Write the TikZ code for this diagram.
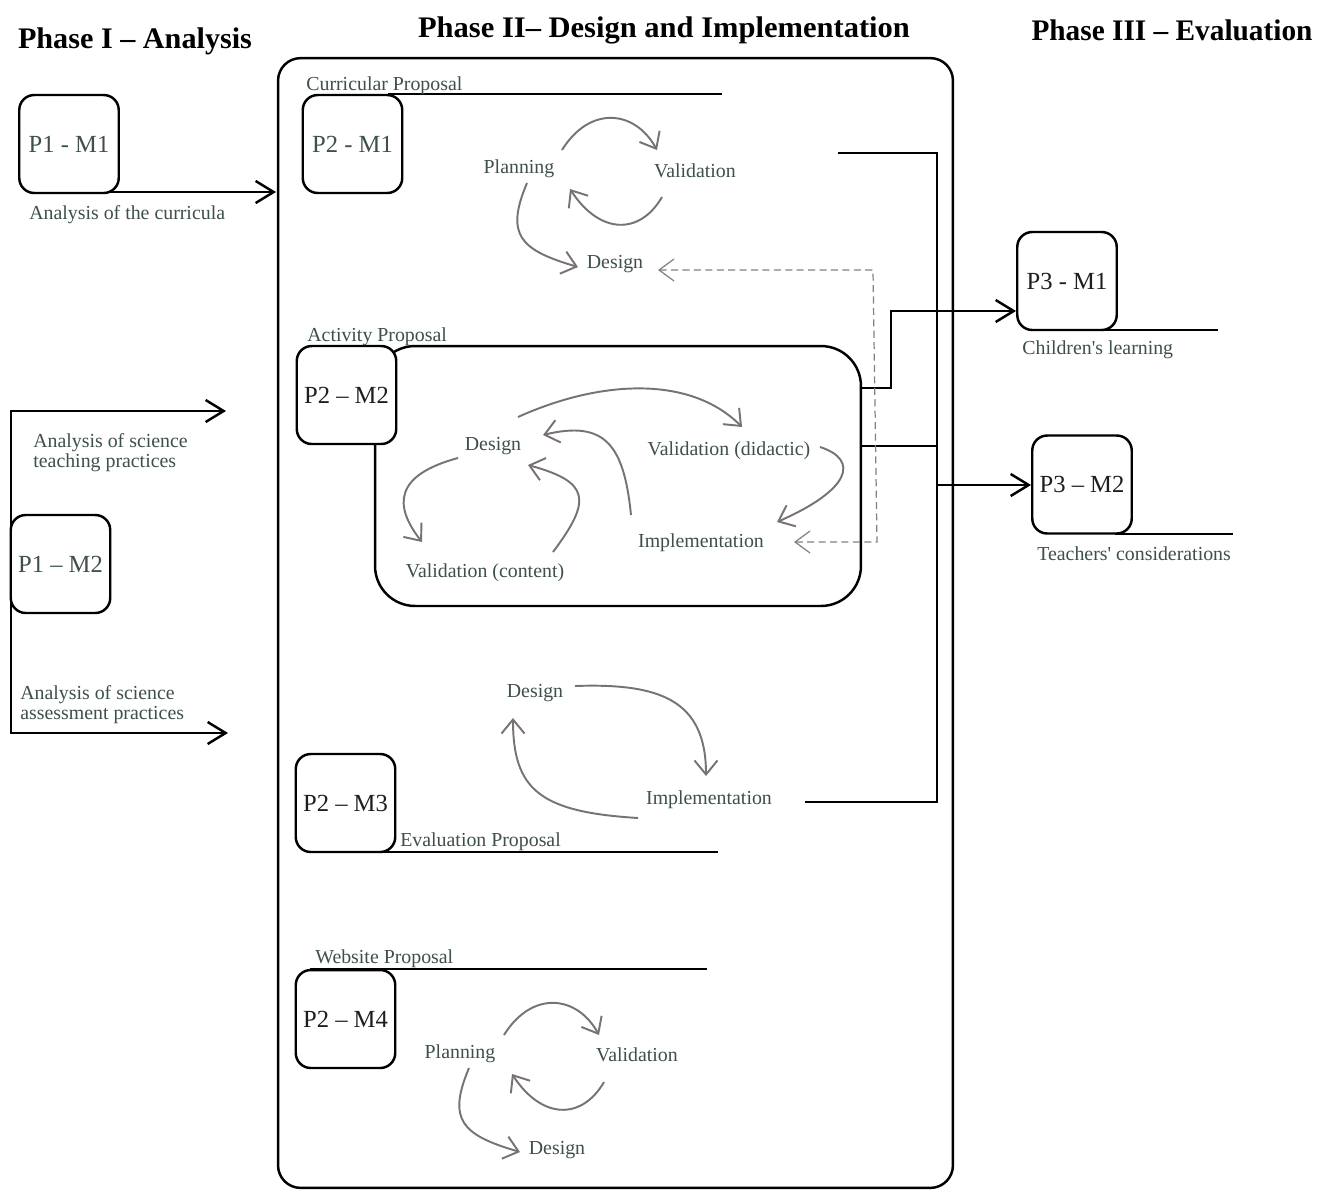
\documentclass[tikz,border=0pt]{standalone}
\usepackage{fontspec}
\setmainfont{Liberation Serif}
\newfontfamily\nolig{Liberation Serif}[Ligatures=ResetAll]
\usepackage{graphicx}
\usetikzlibrary{arrows.meta}
\definecolor{txtc}{RGB}{62,80,72}
\definecolor{boxtxt}{RGB}{30,30,30}
\definecolor{curvc}{RGB}{120,114,114}
\definecolor{dashc}{RGB}{130,130,130}
\tikzset{
 mbox/.style={draw=black, line width=1.4pt, rounded corners=0.3cm, minimum width=1.99cm, minimum height=1.96cm, fill=white, inner sep=0pt, text=boxtxt, font=\fontsize{14}{16}\selectfont},
 gbox/.style={mbox, text=txtc},
 lbl/.style={inner sep=0pt, text=txtc, yshift=-1.7pt, font=\fontsize{11.3}{11.5}\selectfont},
 garrow/.style={draw=curvc, line width=1.1pt, -{Straight Barb[length=2.8mm,width=4.6mm]}},
 blk/.style={draw=black, line width=1.4pt},
 barrow/.style={blk, -{Straight Barb[length=3.6mm,width=4.4mm]}},
 dline/.style={draw=dashc, line width=0.7pt, dash pattern=on 4pt off 2.5pt, {Straight Barb[length=3mm,width=4.4mm]}-{Straight Barb[length=3mm,width=4.4mm]}},
 headc/.style={inner sep=0pt, font=\fontsize{17}{19}\selectfont\bfseries}
}
\begin{document}
\begin{tikzpicture}[x=0.02cm, y=-0.02cm]
\useasboundingbox (0,0) rectangle (1330,1191);
\fill[white] (0,0) rectangle (1330,1191);

% headings
\node[headc] (h1) at (135,41) {\resizebox{4.68cm}{\height}{Phase I -- Analysis}};
\node[headc] (h2) at (664,30) {\resizebox{9.84cm}{\height}{Phase II-- Design and Implementation}};
\node[headc] (h3) at (1172,30) {\resizebox{5.62cm}{\height}{Phase III -- Evaluation}};

% outer frame
\node[draw=black, line width=1.4pt, rounded corners=0.45cm, minimum width=13.5cm, minimum height=22.6cm, inner sep=0pt] (frame) at (615.5,623) {};

% activity box
\node[draw=black, line width=1.4pt, rounded corners=0.8cm, minimum width=9.72cm, minimum height=5.2cm, inner sep=0pt] (actbox) at (618,476) {};

% black connector lines
\coordinate (c1) at (838,153);
\coordinate (c2) at (937,153);
\coordinate (c3) at (937,802);
\coordinate (c4) at (805,802);
\draw[blk] (c1) -- (c2) -- (c3) -- (c4);
\coordinate (c5) at (861,446);
\draw[blk] (c5) -- (937,446);
\coordinate (c6) at (861,388);
\coordinate (c7) at (891,388);
\coordinate (c8) at (891,311);
\coordinate (c9) at (937,485);

% underlines
\draw[blk] (388,94) -- (722,94);
\draw[blk] (380,852) -- (718,852);
\draw[blk] (310,969) -- (707,969);
\draw[blk] (1100,330) -- (1218,330);
\draw[blk] (1115,534) -- (1233,534);

% left connector
\coordinate (l1) at (226,411);
\coordinate (l2) at (11,411);
\coordinate (l3) at (11,733);
\coordinate (l4) at (228,733);
\draw[blk, {Straight Barb[length=3.6mm,width=4.4mm]}-{Straight Barb[length=3.6mm,width=4.4mm]}] (l1) -- (l2) -- (l3) -- (l4);

% P1-M1 arrow
\coordinate (a1) at (104,192);
\coordinate (a2) at (276,192);
\draw[barrow] (a1) -- (a2);

% boxes
\node[gbox] (p1m1) at (69,144) {P1 - M1};
\node[gbox] (p2m1) at (352.5,144) {P2 - M1};
\node[gbox] (p1m2) at (60.5,564) {P1 -- M2};
\node[mbox] (p2m2) at (346.5,395) {P2 -- M2};
\node[mbox] (p2m3) at (345.5,803) {P2 -- M3};
\node[mbox] (p2m4) at (345.5,1019) {P2 -- M4};
\node[mbox] (p3m1) at (1067,281) {P3 - M1};
\node[mbox] (p3m2) at (1082,484.5) {P3 -- M2};

\draw[barrow] (c6) -- (c7) -- (c8) -- (p3m1.west |- c8);
\draw[barrow] (c9) -- (p3m2.west |- c9);

% labels
\node[lbl, anchor=west] (lcur) at (306,83) {Curricular Proposal};
\node[lbl, anchor=west] (lact) at (307,334) {Activity Proposal};
\node[lbl, anchor=west] (leva) at (400,839) {Evaluation Proposal};
\node[lbl, anchor=west] (lweb) at (315,956) {Website Proposal};
\node[lbl, anchor=west] (lcurr) at (29,212) {Analysis of the curricula};
\node[lbl, anchor=west] (lchild) at (1022,347) {Children{\nolig '}s learning};
\node[lbl, anchor=west] (lteach) at (1037,551) {Teachers{\nolig '} considerations};
\node[lbl, anchor=west, align=left] (lteachp) at (33,450) {Analysis of science\\teaching practices};
\node[lbl, anchor=west, align=left] (lassp) at (20,702) {Analysis of science\\assessment practices};

% M1 cycle
\node[lbl] (plan1) at (519,166) {Planning};
\node[lbl] (val1) at (695,168) {Validation};
\node[lbl] (des1) at (615,261) {Design};
\draw[garrow] (562,150) .. controls (590,105) and (635,110) .. (657,150);
\draw[garrow] (662,197) .. controls (640,235) and (600,235) .. (570,189);
\draw[garrow] (527,183) .. controls (505,235) and (520,250) .. (578,267);

% M2 cycle
\node[lbl] (des2) at (493,443) {Design};
\node[lbl] (vald2) at (729,448) {Validation (didactic)};
\node[lbl] (imp2) at (701,540) {Implementation};
\node[lbl] (valc2) at (485,570) {Validation (content)};
\draw[garrow] (518,417) .. controls (600,380) and (690,375) .. (742,427);
\draw[garrow] (820,447) .. controls (860,460) and (850,490) .. (777,522);
\draw[garrow] (631,515) .. controls (624,445) and (605,420) .. (543,435);
\draw[garrow] (553,552) .. controls (592,500) and (590,482) .. (528,465);
\draw[garrow] (458,458) .. controls (395,475) and (393,505) .. (422,542);

% dashed feedback
\coordinate (d1) at (658,270);
\coordinate (d2) at (873,270);
\coordinate (d3) at (877,542);
\coordinate (d4) at (794,542);
\draw[dline] (d1) -- (d2) -- (d3) -- (d4);

% M3 cycle
\node[lbl] (des3) at (535,690) {Design};
\node[lbl] (imp3) at (709,797) {Implementation};
\draw[garrow] (575,686) .. controls (660,683) and (706,700) .. (706,776);
\draw[garrow] (638,818) .. controls (540,812) and (513,790) .. (513,718);

% M4 cycle
\node[lbl] (plan4) at (460,1051) {Planning};
\node[lbl] (val4) at (637,1052) {Validation};
\node[lbl] (des4) at (557,1147) {Design};
\begin{scope}[shift={(-58,885)}]
\draw[garrow] (562,150) .. controls (590,105) and (635,110) .. (657,150);
\draw[garrow] (662,197) .. controls (640,235) and (600,235) .. (570,189);
\draw[garrow] (527,183) .. controls (505,235) and (520,250) .. (578,267);
\end{scope}
\end{tikzpicture}
\end{document}
